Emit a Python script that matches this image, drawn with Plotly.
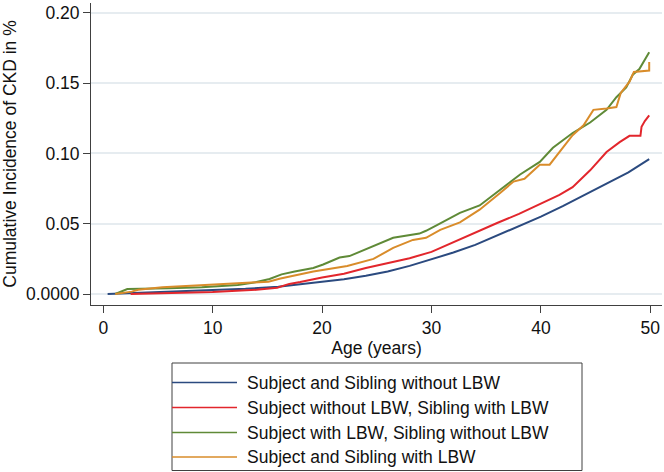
import plotly.graph_objects as go

# ---- data ----
series_names = [
    "Subject and Sibling without LBW",
    "Subject without LBW, Sibling with LBW",
    "Subject with LBW, Sibling without LBW",
    "Subject and Sibling with LBW",
]
series_colors = ["#2b4a7f", "#e2262c", "#5f8a37", "#d98c2a"]

blue_age = [0.4, 3, 6, 10, 13, 16, 18, 20, 22, 24, 26, 28, 30, 32, 34, 36, 38, 40, 42, 44, 46, 48, 49.9]
blue_val = [0, 0.0008, 0.0015, 0.0025, 0.0037, 0.0052, 0.0068, 0.0088, 0.0105, 0.013, 0.016, 0.020,
            0.0245, 0.0295, 0.035, 0.0415, 0.048, 0.055, 0.0625, 0.0705, 0.0785, 0.0865, 0.096]

red_age = [2.5, 5, 10, 14, 15.9, 17, 18, 20, 22, 24, 26, 28, 30, 32, 34, 36, 38, 40, 41.7, 42.9,
           44.5, 46, 47.2, 48.1, 49.1, 49.2, 49.5, 49.9]
red_val = [0, 0.0005, 0.0015, 0.003, 0.0045, 0.0072, 0.0085, 0.0118, 0.0145, 0.0185, 0.022, 0.0255,
           0.030, 0.037, 0.044, 0.0505, 0.057, 0.064, 0.0705, 0.076, 0.088, 0.101, 0.108, 0.1125,
           0.1125, 0.119, 0.123, 0.127]

green_age = [1.1, 1.6, 2.2, 6, 9, 12.3, 14, 15.2, 16.3, 17.5, 19.2, 20.1, 21.6, 22.5, 24.4, 26.5,
             28.9, 29.5, 30.5, 31.5, 32.6, 34.4, 36.3, 38.1, 39.9, 41.1, 42.9, 44.5, 46, 46.9, 47.8,
             48.4, 49, 49.5, 49.9]
green_val = [0, 0.0015, 0.0036, 0.0042, 0.0048, 0.0064, 0.0085, 0.0107, 0.014, 0.016, 0.0185, 0.021,
             0.026, 0.027, 0.033, 0.040, 0.043, 0.045, 0.049, 0.053, 0.0577, 0.063, 0.074, 0.085,
             0.094, 0.104, 0.1145, 0.122, 0.131, 0.140, 0.147, 0.156, 0.160, 0.167, 0.172]

orange_age = [1.1, 2.6, 3.2, 5.4, 9.3, 12.3, 15.1, 16.2, 17.5, 19.2, 22.3, 24.7, 26.5, 28.3, 29.5,
              30.8, 32.6, 34.4, 36.3, 37.5, 38.5, 39.9, 40.8, 41.7, 42.9, 43.9, 44.8, 46, 46.9,
              47.3, 48.1, 48.5, 49.9, 49.9]
orange_val = [0, 0.0017, 0.003, 0.0048, 0.0064, 0.0076, 0.0088, 0.011, 0.013, 0.016, 0.020, 0.025,
              0.0328, 0.0385, 0.040, 0.0456, 0.051, 0.060, 0.072, 0.080, 0.082, 0.092, 0.092, 0.101,
              0.113, 0.120, 0.131, 0.132, 0.133, 0.143, 0.151, 0.158, 0.159, 0.165]

x_ticks = [0, 10, 20, 30, 40, 50]
y_ticks = [0, 0.05, 0.10, 0.15, 0.20]
y_tick_labels = ["0.0000", "0.05", "0.10", "0.15", "0.20"]

FONT = "Arial, Liberation Sans, sans-serif"
W, H = 664, 472
ML, MR, MT, MB = 91, 2, 3, 167
PW, PH = W - ML - MR, H - MT - MB

fig = go.Figure()
for name, color, xs, ys in zip(series_names, series_colors,
                               [blue_age, red_age, green_age, orange_age],
                               [blue_val, red_val, green_val, orange_val]):
    fig.add_trace(go.Scatter(x=xs, y=ys, mode="lines", name=name,
                             line=dict(color=color, width=2), showlegend=False))

# manual legend (box, line samples, labels)
def px_x(p):
    return (p - ML) / PW

def px_y(p):
    return (H - MB - p) / PH

shapes = [dict(type="rect", xref="paper", yref="paper",
               x0=px_x(172), x1=px_x(582), y0=px_y(363), y1=px_y(470.5),
               line=dict(color="#404040", width=1), fillcolor="white")]
annotations = []
row_y = [382.5, 407.5, 432.5, 457]
for name, color, ry in zip(series_names, series_colors, row_y):
    shapes.append(dict(type="line", xref="paper", yref="paper",
                       x0=px_x(172), x1=px_x(237), y0=px_y(ry), y1=px_y(ry),
                       line=dict(color=color, width=1.6)))
    annotations.append(dict(xref="paper", yref="paper", x=px_x(245), y=px_y(ry),
                            xanchor="left", yanchor="middle", text=name, showarrow=False,
                            font=dict(family=FONT, size=17.5, color="#111111")))

fig.update_layout(
    width=W, height=H,
    margin=dict(l=ML, r=MR, t=MT, b=MB),
    paper_bgcolor="white", plot_bgcolor="white",
    font=dict(family=FONT, size=17.5, color="#111111"),
    shapes=shapes, annotations=annotations,
    showlegend=False,
)
fig.update_xaxes(
    automargin=False,
    range=[-1.12, 51.07], tickvals=x_ticks, ticks="outside", ticklen=7, tickwidth=1,
    tickcolor="#404040", showline=True, linecolor="#404040", linewidth=1,
    showgrid=False, zeroline=False,
    title=dict(text="Age (years)", standoff=0, font=dict(size=17.5)),
    tickfont=dict(size=17.5),
)
fig.update_yaxes(
    automargin=False,
    range=[-0.0078, 0.207], tickvals=y_ticks, ticktext=y_tick_labels, ticks="outside",
    ticklen=7, tickwidth=1, tickcolor="#404040", showline=True, linecolor="#404040",
    linewidth=1, showgrid=True, gridcolor="#e6ecf0", gridwidth=1.5, zeroline=False,
    title=dict(text="Cumulative Incidence of CKD in %", standoff=4, font=dict(size=17.5)),
    tickfont=dict(size=17.5),
)

# remove the browser's default 8px page margin so the figure sits at the window origin
fig.write_html(
    "out.html",
    config={"displayModeBar": False},
    post_script="document.body.style.margin='0px';document.body.style.overflow='hidden';",
)
